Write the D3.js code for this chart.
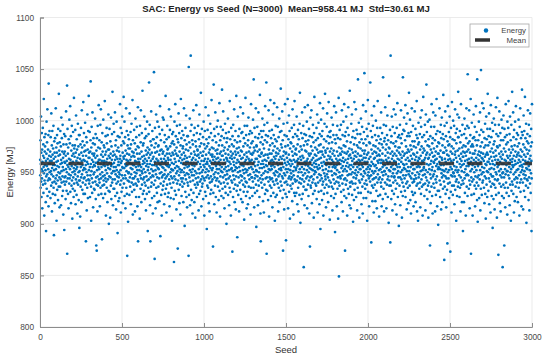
<!DOCTYPE html>
<html>
<head>
<meta charset="utf-8">
<script src="https://cdn.jsdelivr.net/npm/d3@7"></script>
<style>
  body { margin: 0; background: #fff; }
  text { font-family: "Liberation Sans", Arial, Helvetica, sans-serif; }
</style>
</head>
<body>
<div id="main_frame"></div>
<script>
// energy per seed, seed = position + 1 (approximate)
var energy = [
962,947,981,935,958,1004,941,969,926,953,988,944,972,915,960,951,993,938,966,977,930,955,1021,949,964,908,984,942,970,957,
975,939,952,987,921,961,893,946,968,999,934,956,979,948,1011,927,963,942,972,953,986,917,1036,958,944,966,931,990,950,961,
943,970,958,925,984,951,965,937,1007,948,961,976,912,954,990,940,967,929,957,973,946,995,935,963,889,952,980,941,969,920,
957,983,928,965,944,1012,953,939,974,960,903,947,969,986,933,956,978,942,961,923,992,950,966,936,1026,955,971,945,916,979,
949,967,936,990,958,943,975,918,962,1003,951,940,983,959,927,970,946,996,955,932,964,909,977,952,941,968,987,894,960,945,
970,938,959,985,946,924,966,953,1009,941,977,932,961,950,1034,871,957,992,944,968,929,974,955,915,982,948,963,939,1001,958,
944,978,953,1014,931,962,947,985,920,959,971,937,956,995,942,966,905,950,976,934,960,989,945,968,926,954,1022,939,973,951,
965,932,976,948,991,957,919,969,943,1005,953,961,928,982,940,972,955,910,964,946,997,938,959,975,950,923,986,942,967,896,
951,986,942,963,907,958,977,936,955,993,945,969,921,961,1010,948,974,933,957,980,940,966,952,1018,929,962,944,988,954,970,
976,945,961,929,998,953,938,971,957,883,966,984,942,950,913,979,960,935,1006,947,972,925,958,990,943,964,1024,952,969,939,
942,964,989,955,926,970,947,981,1038,958,936,903,974,951,994,944,962,930,968,1008,955,940,978,916,960,983,948,966,934,957,
968,950,933,977,956,1002,941,964,987,924,959,945,879,971,938,874,983,952,966,912,946,995,960,937,974,955,928,1015,962,943,
953,981,940,962,917,973,948,996,935,958,1011,944,967,929,955,979,961,885,950,988,937,970,946,965,925,1001,957,942,976,959,
938,961,974,947,1019,956,929,967,944,985,952,908,970,941,960,993,935,978,949,963,921,957,986,943,972,954,1006,932,966,900,
972,946,959,992,931,964,953,906,980,945,968,937,1003,956,924,975,949,962,987,940,958,1028,943,966,918,951,970,934,997,955,
959,989,934,951,967,943,1008,962,927,976,948,955,981,914,965,939,999,952,971,930,946,963,891,985,957,941,974,922,960,950,
945,970,957,925,984,948,963,1016,938,966,952,993,911,959,942,976,931,961,988,947,1004,955,935,969,954,920,980,944,965,1023,
963,939,978,954,999,927,966,947,984,958,915,971,944,956,1012,935,962,951,990,929,968,869,957,976,942,961,902,986,949,973,
950,982,941,967,928,959,1007,945,973,936,962,989,954,919,977,948,965,997,940,958,931,970,953,1020,944,909,981,957,966,938,
969,944,957,991,933,965,950,978,912,961,946,1002,939,972,955,926,984,949,960,994,937,968,952,917,975,943,1013,883,963,956,
941,974,960,926,986,952,968,905,957,995,947,963,934,979,1010,944,955,921,970,951,988,938,965,949,1029,958,929,976,943,961,
978,953,932,966,945,1004,959,940,983,924,963,950,992,937,971,913,956,985,946,967,929,961,999,942,958,974,893,952,969,935,
955,987,943,964,1037,931,972,949,996,958,918,967,883,980,945,961,936,1009,953,976,940,969,925,957,990,947,963,910,982,951,
946,965,982,938,1047,957,927,974,866,960,993,942,969,952,915,978,948,1006,935,963,956,984,930,970,945,999,921,961,954,975,
961,936,976,953,994,944,967,922,958,987,949,1014,971,888,957,939,981,963,928,950,972,908,960,945,991,955,933,968,1003,947,
937,970,954,1001,941,963,919,979,948,959,986,929,966,952,944,1024,961,934,975,957,911,982,946,968,938,995,956,972,926,964,
973,948,962,930,984,955,1011,943,968,917,957,991,939,975,950,962,925,1004,946,966,953,935,978,959,903,987,944,969,952,980,
952,989,940,967,924,958,863,977,946,999,963,932,971,954,1016,943,960,985,928,968,949,914,974,956,995,939,966,951,982,876,
966,942,979,955,1007,933,961,947,988,920,970,953,996,938,964,909,976,950,1021,944,959,983,927,967,952,941,990,962,936,973,
944,975,958,921,986,950,969,1012,939,963,954,898,981,947,966,931,993,957,972,943,1005,960,926,977,949,964,916,985,955,940,
960,985,937,971,948,869,1052,956,928,979,945,965,1002,952,918,974,941,990,1063,959,933,968,950,996,923,962,947,981,957,910,
953,977,942,964,1010,930,959,986,947,970,921,956,993,938,967,951,906,980,962,944,975,935,1015,958,949,988,926,966,940,972,
971,938,960,995,945,967,913,953,982,929,964,1006,949,975,941,958,987,932,969,955,1027,943,978,917,961,950,992,936,966,946,
939,966,952,984,924,970,957,999,944,961,977,908,955,942,990,963,931,973,950,1013,958,927,967,945,982,953,895,975,960,937,
958,991,947,963,935,978,1005,951,920,969,944,984,956,912,972,940,961,997,929,954,967,946,988,933,959,1020,941,974,952,965,
967,943,981,954,878,962,930,973,1035,948,958,992,919,965,945,985,937,960,1008,950,971,926,956,979,942,963,911,994,953,968,
944,972,958,1000,936,964,949,987,923,960,976,941,953,1017,932,968,957,907,981,946,962,994,939,970,951,927,985,955,966,1030,
976,950,934,966,991,945,1009,958,925,971,940,962,983,953,915,974,947,997,936,959,968,930,955,988,943,964,900,979,951,963,
948,983,961,939,972,1002,928,956,967,944,989,952,918,975,960,935,1019,946,964,982,931,958,970,908,953,993,942,966,954,977,
963,940,873,985,951,968,926,996,947,960,975,934,957,1011,943,964,921,981,952,970,938,990,955,914,967,946,1024,959,932,973,
954,979,887,962,937,1004,950,969,928,985,945,960,974,912,955,992,940,966,951,980,933,1013,958,947,971,924,963,988,942,957,
970,946,958,989,921,964,952,1007,938,975,956,931,983,949,904,967,944,995,960,936,978,953,1022,941,962,927,986,950,969,915,
940,965,995,952,931,976,958,919,981,947,1003,963,936,970,954,987,943,961,925,974,948,990,960,909,968,935,1016,955,978,945,
962,988,945,967,927,953,980,941,1001,958,969,935,1040,950,974,916,960,993,944,971,930,956,984,947,963,1012,938,952,897,976,
975,951,963,932,994,946,970,957,918,983,942,1008,960,937,966,950,987,926,972,954,1025,944,965,910,979,883,958,990,940,968,
947,969,984,954,935,1002,961,943,977,922,958,990,949,966,911,973,955,996,938,962,981,929,1014,951,967,944,986,957,933,1037,
961,871,945,979,956,998,932,967,950,985,923,964,941,1010,953,972,907,959,990,945,968,937,976,952,1020,943,961,927,983,956,
935,968,953,991,944,962,916,978,957,1006,941,971,930,960,986,949,965,1017,938,955,975,903,947,982,963,926,995,951,969,942,
966,943,980,928,959,1013,950,973,939,994,957,912,968,946,984,935,962,953,1002,921,971,948,989,958,932,965,941,1031,954,977,
952,990,937,963,974,946,1009,958,925,981,944,874,966,955,997,933,970,949,914,962,986,940,959,1016,947,975,929,968,953,884,
969,941,957,985,926,964,950,998,938,1021,960,976,915,953,982,944,967,1005,931,958,946,990,962,905,973,952,937,979,956,943,
949,978,961,934,993,945,970,922,958,1011,939,966,984,951,909,975,947,962,996,930,955,1019,943,968,927,987,960,941,972,952,
973,954,930,967,1004,942,961,985,919,956,977,946,991,935,963,912,950,982,959,940,970,928,997,953,1027,944,965,901,975,958,
939,962,988,950,924,972,955,1008,943,966,983,929,958,947,995,964,936,858,976,953,941,987,918,960,1013,949,971,933,957,980,
958,986,944,970,933,961,999,952,915,977,946,963,1015,938,956,981,927,968,950,992,942,910,966,954,985,878,960,945,1003,937,
968,935,975,953,1010,946,962,920,984,957,940,971,952,996,929,964,943,979,906,959,988,948,1023,955,932,967,951,974,939,961,
950,981,958,937,966,993,924,955,972,1006,945,962,911,983,953,940,969,998,931,957,976,948,963,919,987,954,1017,942,970,895,
977,947,964,1001,932,959,985,944,970,923,956,990,938,967,952,1012,941,908,974,960,929,982,949,965,997,935,958,1026,946,971,
943,969,953,916,980,957,938,994,962,948,1007,930,973,959,985,945,921,966,951,1018,936,978,955,942,989,963,904,970,958,984,
965,990,940,958,927,973,951,1003,936,962,979,947,913,968,955,996,934,960,986,943,971,925,957,1014,949,966,939,982,892,954,
955,929,978,948,1008,963,941,986,957,917,970,952,995,934,961,945,983,905,966,940,1022,958,849,974,950,937,991,962,946,968,
982,958,944,967,996,931,973,954,921,961,1010,947,970,939,986,956,912,964,951,999,933,976,960,943,1016,927,969,953,985,874,
944,975,962,989,938,956,1004,925,968,951,942,980,908,959,993,947,970,934,963,1013,955,986,929,966,948,973,918,957,1029,940,
967,936,953,979,915,964,948,997,957,941,972,1006,928,961,984,950,939,969,902,955,990,945,963,923,977,958,1018,933,966,949,
958,983,939,970,952,1011,944,926,965,991,947,960,976,913,955,987,935,968,1040,950,974,930,962,998,942,957,906,979,953,966,
940,961,987,953,973,930,1002,948,966,919,982,957,943,994,962,936,971,910,955,1015,946,978,925,964,989,951,968,1046,939,960,
971,949,934,982,958,964,1009,942,925,976,953,992,938,967,903,960,985,947,1020,955,931,969,950,997,944,963,917,979,957,946,
953,978,941,1037,965,930,990,956,947,882,972,960,1005,937,984,951,922,968,943,995,958,935,976,949,911,963,1014,944,970,956,
938,964,986,951,922,975,957,1000,945,969,932,981,954,915,966,993,940,961,1019,948,973,927,959,985,943,967,952,907,978,962,
966,945,971,928,993,953,982,940,959,1008,936,962,917,977,950,988,943,968,955,924,974,1042,947,961,934,996,957,912,980,951,
951,983,957,940,1013,966,929,972,948,995,962,915,977,954,938,986,960,1005,943,969,926,958,981,946,964,901,974,952,1024,937,
973,942,960,991,951,882,968,1063,937,979,955,924,985,946,1004,963,932,970,913,957,994,949,966,940,978,953,1011,929,961,945,
946,968,988,953,919,975,942,1006,960,934,980,957,966,909,993,949,971,939,1017,955,963,926,984,951,945,974,958,898,969,986,
962,937,974,955,996,945,918,967,983,950,1010,931,960,943,978,964,906,987,952,940,970,927,1042,958,947,991,936,966,954,1003,
957,990,944,968,932,981,953,1015,926,962,947,975,939,997,958,914,969,951,985,941,1007,964,935,972,955,920,988,948,961,1027,
970,951,985,937,961,1001,946,923,976,955,966,910,989,944,972,958,1012,931,963,949,980,940,957,995,928,968,953,917,975,943,
941,967,953,980,1009,930,962,947,992,921,958,974,944,965,986,937,1019,955,912,969,950,983,939,961,903,977,956,998,945,964,
979,948,934,963,955,987,940,972,916,1003,951,966,929,994,958,943,975,1010,936,961,984,952,908,969,947,960,1023,938,973,954,
955,986,962,927,971,948,996,939,964,913,980,952,1006,945,967,1035,933,958,989,942,969,924,976,950,999,937,963,906,982,957,
964,940,975,953,1001,931,967,879,948,985,958,920,972,944,994,961,936,1016,952,969,927,978,955,910,983,946,965,1008,939,960,
948,973,959,994,935,966,951,981,912,962,1005,943,970,928,987,956,940,1021,963,946,975,917,958,990,932,968,953,899,979,955,
968,954,932,978,960,1012,942,965,989,926,953,971,938,996,957,914,983,949,964,1003,945,962,921,976,952,987,934,969,1025,947,
957,982,941,969,865,951,995,936,963,974,1009,946,929,960,985,953,916,971,944,998,958,933,967,881,980,950,1014,939,962,976,
944,966,989,952,925,977,958,1004,940,963,984,873,955,970,931,993,947,961,911,975,953,1018,937,968,946,982,928,959,1000,950,
973,949,962,937,995,956,919,981,946,967,1011,933,970,952,988,941,964,903,978,955,943,992,927,960,1006,950,971,936,984,1028,
952,984,940,966,1003,947,973,926,958,990,935,963,979,912,955,945,1016,968,938,961,986,951,921,974,957,996,942,965,893,970,
965,939,976,958,921,987,950,1002,944,969,930,961,992,953,975,908,966,947,983,1012,956,936,970,948,995,962,927,1045,959,978,
947,972,956,993,934,963,1010,942,980,915,958,969,938,986,951,1021,960,871,975,945,928,964,998,953,941,977,957,908,968,983,
975,958,943,1006,962,929,984,950,968,937,994,955,917,971,946,981,960,1014,934,964,952,989,940,976,923,1040,958,945,902,967,
956,981,937,962,947,999,970,925,958,986,943,966,1008,952,913,975,960,934,1049,969,991,948,964,928,979,955,1017,940,963,950,
942,968,989,950,1012,961,935,974,954,920,983,946,965,997,929,958,976,905,967,944,1004,957,938,982,951,969,926,992,960,1026,
967,950,976,932,960,985,944,1007,919,963,953,979,941,992,958,970,911,948,1015,936,965,984,954,927,973,946,998,961,939,896,
958,990,946,969,924,977,1002,953,938,965,980,914,957,943,996,962,935,971,950,1013,928,966,987,948,959,906,975,942,1022,955,
974,943,962,985,870,957,930,996,951,968,1009,939,976,920,960,947,988,965,912,953,981,936,970,1001,945,963,927,958,993,949,
858,967,950,981,938,1005,958,925,973,945,879,992,962,935,984,953,916,970,948,1016,961,940,977,957,930,986,951,966,909,999,
951,979,935,964,993,947,1019,959,927,972,955,944,987,918,966,1004,938,962,950,981,903,969,953,996,932,975,960,941,1028,957,
963,938,972,955,1008,929,984,948,966,911,991,957,943,976,922,961,999,950,970,936,958,1014,945,982,965,926,952,988,940,967,
944,975,959,921,986,953,969,1001,935,962,978,947,908,966,994,956,940,1012,960,931,972,950,983,943,965,917,957,989,1030,952,
970,955,986,940,962,914,977,948,1005,958,932,967,990,951,944,974,1023,926,961,983,947,965,937,997,954,901,972,959,943,980,
953,987,942,968,1010,935,960,978,923,956,996,945,971,913,963,952,985,939,1007,958,966,930,975,949,992,961,893,944,979,1016
];

var meanEnergy = 958.41;
var titleText = "SAC: Energy vs Seed (N=3000)  Mean=958.41 MJ  Std=30.61 MJ";
var xTicks = [0, 500, 1000, 1500, 2000, 2500, 3000];
var yTicks = [800, 850, 900, 950, 1000, 1050, 1100];
var legendLabels = ["Energy", "Mean"];

var chartW = 550;
var chartH = 357;
var plotL = 40, plotR = 532, plotT = 17.5, plotB = 327;

var x = d3.scaleLinear().domain([0, 3000]).range([plotL, plotR]);
var y = d3.scaleLinear().domain([800, 1100]).range([plotB, plotT]);

var svg = d3.select("#main_frame")
            .append("svg")
            .attr("width", chartW)
            .attr("height", chartH)
            .style("display", "block")
            .style("background", "#fff");

// grid lines
svg.append("g")
   .selectAll("line.vgrid")
   .data(xTicks)
   .enter()
   .append("line")
   .attr("x1", function(d) { return x(d); })
   .attr("x2", function(d) { return x(d); })
   .attr("y1", plotT)
   .attr("y2", plotB)
   .attr("stroke", "#e6e6e6")
   .attr("stroke-width", 0.8);

svg.append("g")
   .selectAll("line.hgrid")
   .data(yTicks)
   .enter()
   .append("line")
   .attr("x1", plotL)
   .attr("x2", plotR)
   .attr("y1", function(d) { return y(d); })
   .attr("y2", function(d) { return y(d); })
   .attr("stroke", "#e6e6e6")
   .attr("stroke-width", 0.8);

// scatter of energies
svg.append("g")
   .selectAll("circle")
   .data(energy)
   .enter()
   .append("circle")
   .attr("cx", function(d, i) { return x(i + 1); })
   .attr("cy", function(d) { return y(d); })
   .attr("r", 1.35)
   .attr("fill", "#0072BD");

// mean line
svg.append("line")
   .attr("x1", x(0))
   .attr("x2", x(3000))
   .attr("y1", y(meanEnergy))
   .attr("y2", y(meanEnergy))
   .attr("stroke", "#333")
   .attr("stroke-opacity", 0.9)
   .attr("stroke-width", 3.5)
   .attr("stroke-dasharray", "15,13.5");

// axes
var xAxis = d3.axisBottom(x).tickValues(xTicks).tickFormat(d3.format("d")).tickSize(-4).tickPadding(7);
var yAxis = d3.axisLeft(y).tickValues(yTicks).tickFormat(d3.format("d")).tickSize(-4).tickPadding(6);

var gx = svg.append("g")
            .attr("transform", "translate(0," + plotB + ")")
            .call(xAxis);
var gy = svg.append("g")
            .attr("transform", "translate(" + plotL + ",0)")
            .call(yAxis);

[gx, gy].forEach(function(g) {
    g.select(".domain").attr("stroke", "#8c8c8c").attr("stroke-width", 1);
    g.selectAll(".tick line").attr("stroke", "#8c8c8c");
    g.selectAll(".tick text")
     .attr("fill", "#4a4a4a")
     .style("font-size", "8.3px")
     .style("font-family", "Liberation Sans, Arial, sans-serif");
});

// title and labels
svg.append("text")
   .attr("x", (plotL + plotR) / 2)
   .attr("y", 12)
   .attr("text-anchor", "middle")
   .style("font-size", "9.6px")
   .style("font-weight", "bold")
   .style("white-space", "pre")
   .attr("fill", "#222")
   .text(titleText);

svg.append("text")
   .attr("x", (plotL + plotR) / 2)
   .attr("y", 353)
   .attr("text-anchor", "middle")
   .style("font-size", "9.5px")
   .attr("fill", "#333")
   .text("Seed");

svg.append("text")
   .attr("transform", "translate(13," + ((plotT + plotB) / 2) + ") rotate(-90)")
   .attr("text-anchor", "middle")
   .style("font-size", "9.5px")
   .attr("fill", "#333")
   .text("Energy [MJ]");

// legend
var legend = svg.append("g");
legend.append("rect")
      .attr("x", 470)
      .attr("y", 24)
      .attr("width", 59)
      .attr("height", 23)
      .attr("fill", "#fff")
      .attr("stroke", "#a6a6a6")
      .attr("stroke-width", 0.8);

legend.append("circle")
      .attr("cx", 486)
      .attr("cy", 30.5)
      .attr("r", 2.2)
      .attr("fill", "#0072BD");

legend.append("line")
      .attr("x1", 475)
      .attr("x2", 490)
      .attr("y1", 40)
      .attr("y2", 40)
      .attr("stroke", "#333")
      .attr("stroke-width", 3.5);

legend.selectAll("text")
      .data(legendLabels)
      .enter()
      .append("text")
      .attr("x", 526)
      .attr("y", function(d, i) { return 33.3 + i * 9.3; })
      .attr("text-anchor", "end")
      .style("font-size", "7.8px")
      .attr("fill", "#444")
      .text(function(d) { return d; });
</script>
</body>
</html>
